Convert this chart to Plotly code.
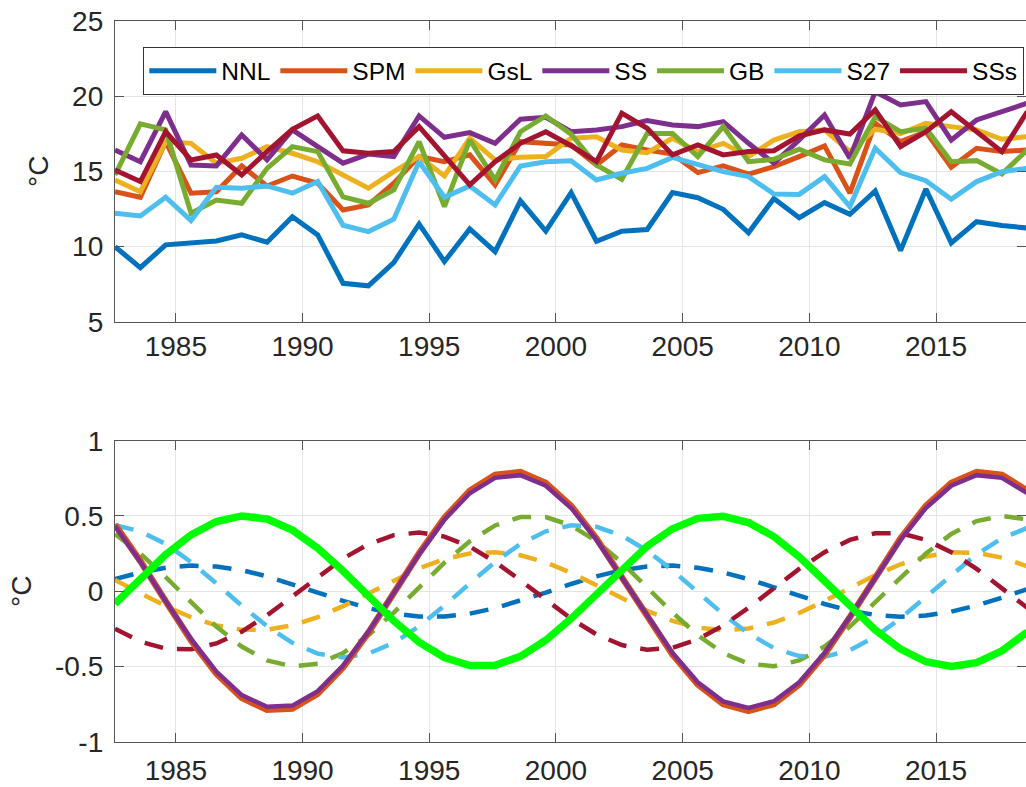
import plotly.graph_objects as go

# ---------------- data ----------------
years = [1982.6, 1983.6, 1984.6, 1985.6, 1986.6, 1987.6, 1988.6, 1989.6, 1990.6, 1991.6,
         1992.6, 1993.6, 1994.6, 1995.6, 1996.6, 1997.6, 1998.6, 1999.6, 2000.6, 2001.6,
         2002.6, 2003.6, 2004.6, 2005.6, 2006.6, 2007.6, 2008.6, 2009.6, 2010.6, 2011.6,
         2012.6, 2013.6, 2014.6, 2015.6, 2016.6, 2017.6, 2018.6]

names = ["NNL", "SPM", "GsL", "SS", "GB", "S27", "SSs"]

# top panel: annual temperatures (°C)
NNL = [10.0, 8.61, 10.12, 10.23, 10.38, 10.78, 10.30, 11.99, 10.78, 7.57, 7.40, 8.94, 11.51, 9.01,
       11.18, 9.67, 13.04, 11.03, 13.59, 10.36, 11.03, 11.14, 13.59, 13.25, 12.48, 10.92, 13.2,
       11.92, 12.92, 12.15, 13.70, 9.74, 13.83, 10.25, 11.66, 11.40, 11.24]
SPM = [13.65, 13.28, 16.97, 13.55, 13.65, 15.36, 14.03, 14.69, 14.21, 12.44, 12.77, 14.21, 15.98,
       15.64, 16.09, 14.1, 16.97, 16.82, 16.75, 15.42, 16.75, 16.42, 16.15, 14.92, 15.36, 14.81,
       15.31, 15.98, 16.69, 13.55, 18.19, 16.97, 17.63, 15.27, 16.53, 16.31, 16.42]
GsL = [14.43, 13.65, 16.97, 16.86, 15.54, 15.87, 16.64, 16.2, 15.64, 14.76, 13.88, 14.98, 15.98,
       14.7, 17.2, 15.76, 15.93, 15.98, 17.2, 17.3, 16.42, 16.24, 17.2, 16.31, 16.86, 15.98, 17.08,
       17.63, 17.75, 16.31, 17.8, 17.5, 18.19, 17.97, 17.75, 17.13, 17.3]
SS = [16.42, 15.64, 18.96, 15.42, 15.36, 17.42, 15.76, 17.75, 16.64, 15.54, 16.15, 15.98, 18.68,
      17.26, 17.57, 16.86, 18.46, 18.59, 17.63, 17.75, 17.97, 18.37, 18.08, 17.97, 18.3, 16.86,
      15.54, 17.08, 18.74, 15.87, 20.29, 19.41, 19.63, 17.08, 18.41, 18.96, 19.52]
GB = [14.76, 18.15, 17.75, 12.22, 13.1, 12.88, 15.2, 16.64, 16.31, 13.3, 12.88, 13.77, 16.97,
      12.66, 17.08, 14.43, 17.63, 18.68, 17.47, 15.42, 14.47, 17.52, 17.52, 15.98, 17.97, 15.64,
      15.8, 16.47, 15.76, 15.49, 18.63, 17.63, 17.86, 15.64, 15.71, 14.83, 16.42]
S27 = [12.22, 12.04, 13.28, 11.73, 13.94, 13.88, 14.03, 13.55, 14.32, 11.42, 11.0, 11.82, 15.64,
       13.28, 14.03, 12.77, 15.36, 15.64, 15.7, 14.43, 14.87, 15.2, 15.93, 15.42, 14.98, 14.65,
       13.5, 13.47, 14.65, 12.66, 16.53, 14.92, 14.38, 13.15, 14.32, 14.98, 15.2]
SSs = [15.09, 14.32, 17.63, 15.76, 16.09, 14.76, 16.31, 17.79, 18.68, 16.36, 16.2, 16.31, 17.97,
       16.09, 14.1, 15.64, 16.86, 17.63, 16.7, 15.64, 18.86, 17.86, 16.09, 16.75, 16.09, 16.31,
       16.37, 17.35, 17.75, 17.48, 19.08, 16.64, 17.63, 18.96, 17.63, 16.31, 18.96]

# bottom panel: nodal-cycle components (°C)
NNL_c = [0.08, 0.125, 0.156, 0.17, 0.164, 0.14, 0.099, 0.048, -0.009, -0.064, -0.113, -0.149,
         -0.168, -0.168, -0.149, -0.113, -0.064, -0.009, 0.048, 0.099, 0.14, 0.164, 0.17, 0.156,
         0.125, 0.08, 0.026, -0.031, -0.085, -0.129, -0.158, -0.17, -0.162, -0.136, -0.095,
         -0.043, 0.014]
SPM_c = [0.443, 0.2, -0.067, -0.326, -0.548, -0.708, -0.788, -0.779, -0.681, -0.507, -0.276,
         -0.014, 0.251, 0.487, 0.668, 0.773, 0.791, 0.719, 0.567, 0.35, 0.094, -0.173, -0.421,
         -0.62, -0.75, -0.795, -0.75, -0.62, -0.421, -0.173, 0.094, 0.351, 0.567, 0.719, 0.791,
         0.773, 0.668]
GsL_c = [0.074, -0.013, -0.099, -0.173, -0.227, -0.256, -0.256, -0.227, -0.173, -0.099, -0.013,
         0.074, 0.152, 0.213, 0.251, 0.259, 0.239, 0.191, 0.122, 0.039, -0.048, -0.13, -0.197,
         -0.242, -0.26, -0.248, -0.208, -0.145, -0.065, 0.022, 0.107, 0.179, 0.231, 0.258, 0.255,
         0.223, 0.166]
SS_c = [0.432, 0.195, -0.065, -0.318, -0.534, -0.69, -0.768, -0.76, -0.664, -0.494, -0.269,
        -0.013, 0.245, 0.475, 0.651, 0.753, 0.771, 0.701, 0.553, 0.341, 0.091, -0.169, -0.41,
        -0.605, -0.732, -0.775, -0.731, -0.605, -0.41, -0.169, 0.091, 0.342, 0.553, 0.701, 0.771,
        0.753, 0.651]
GB_c = [0.38, 0.25, 0.093, -0.076, -0.235, -0.368, -0.46, -0.499, -0.482, -0.411, -0.293, -0.142,
        0.026, 0.19, 0.332, 0.437, 0.493, 0.493, 0.437, 0.332, 0.19, 0.026, -0.142, -0.293,
        -0.411, -0.482, -0.499, -0.46, -0.368, -0.235, -0.076, 0.093, 0.25, 0.38, 0.466, 0.5, 0.477]
S27_c = [0.438, 0.398, 0.314, 0.194, 0.052, -0.096, -0.233, -0.343, -0.415, -0.44, -0.415,
         -0.343, -0.233, -0.096, 0.052, 0.194, 0.314, 0.398, 0.438, 0.428, 0.37, 0.269, 0.139,
         -0.007, -0.153, -0.281, -0.378, -0.431, -0.436, -0.392, -0.303, -0.18, -0.037, 0.11,
         0.245, 0.352, 0.42]
SSs_c = [-0.249, -0.335, -0.382, -0.386, -0.347, -0.269, -0.16, -0.033, 0.098, 0.217, 0.312,
         0.372, 0.39, 0.363, 0.296, 0.195, 0.072, -0.059, -0.183, -0.287, -0.358, -0.389, -0.376,
         -0.32, -0.228, -0.11, 0.02, 0.148, 0.259, 0.341, 0.385, 0.385, 0.341, 0.259, 0.148, 0.02,
         -0.11]
nodal = [-0.084, 0.084, 0.243, 0.374, 0.463, 0.5, 0.48, 0.406, 0.286, 0.134, -0.034, -0.197,
         -0.339, -0.441, -0.494, -0.492, -0.433, -0.326, -0.182, -0.017, 0.15, 0.3, 0.415, 0.484,
         0.498, 0.456, 0.363, 0.228, 0.068, -0.101, -0.257, -0.385, -0.469, -0.5, -0.475, -0.396,
         -0.272]

x_ticks = [1985, 1990, 1995, 2000, 2005, 2010, 2015]
y1_ticks = [5, 10, 15, 20, 25]
y2_ticks = [-1, -0.5, 0, 0.5, 1]
y2_labels = ["-1", "-0.5", "0", "0.5", "1"]

colors = ["#0072BD", "#D95319", "#EDB120", "#7E2F8E", "#77AC30", "#4DBEEE", "#A2142F"]
nodal_color = "#00FF00"

# ---------------- figure ----------------
W, H = 1026, 787
FONT = "Liberation Sans, Arial, Helvetica, sans-serif"
fig = go.Figure()

top_series = [NNL, SPM, GsL, SS, GB, S27, SSs]
for name, ys, c in zip(names, top_series, colors):
    fig.add_trace(go.Scatter(x=years, y=ys, mode="lines", name=name,
                             line=dict(color=c, width=5),
                             xaxis="x", yaxis="y", showlegend=True))

DASH = "19px,14px"
comp = dict(zip(names, [NNL_c, SPM_c, GsL_c, SS_c, GB_c, S27_c, SSs_c]))
cmap = dict(zip(names, colors))
for name in ["NNL", "GsL", "GB", "S27", "SSs"]:
    fig.add_trace(go.Scatter(x=years, y=comp[name], mode="lines", name=name + " nodal",
                             line=dict(color=cmap[name], width=4.5, dash=DASH),
                             xaxis="x2", yaxis="y2", showlegend=False))
fig.add_trace(go.Scatter(x=years, y=comp["SPM"], mode="lines", name="SPM nodal",
                         line=dict(color=cmap["SPM"], width=6.5),
                         xaxis="x2", yaxis="y2", showlegend=False))
fig.add_trace(go.Scatter(x=years, y=comp["SS"], mode="lines", name="SS nodal",
                         line=dict(color=cmap["SS"], width=4.5),
                         xaxis="x2", yaxis="y2", showlegend=False))
fig.add_trace(go.Scatter(x=years, y=nodal, mode="lines", name="18.6-yr cycle",
                         line=dict(color=nodal_color, width=7.5),
                         xaxis="x2", yaxis="y2", showlegend=False))

AX = "#555555"
GRID = "#e4e4e4"
TXT = "#262626"
xr = [1982.6, 2018.55]
xdom = [115 / W, 1.0]
common_x = dict(range=xr, domain=xdom, tickvals=x_ticks, ticks="inside", ticklen=9,
                tickcolor=AX, showline=True, linecolor=AX, linewidth=1.3, mirror="ticks",
                showgrid=True, gridcolor=GRID, gridwidth=1, zeroline=False, automargin=False,
                tickfont=dict(family=FONT, size=28, color=TXT))
common_y = dict(ticks="inside", ticklen=9, tickcolor=AX, showline=True, linecolor=AX,
                linewidth=1.3, mirror="ticks", showgrid=True, gridcolor=GRID, gridwidth=1,
                zeroline=False, automargin=False, ticklabelstandoff=5,
                tickfont=dict(family=FONT, size=28, color=TXT),
                title=dict(text="°C", font=dict(family=FONT, size=28, color=TXT),
                           standoff=15))

fig.update_layout(
    template="none",
    width=W, height=H,
    margin=dict(l=0, r=0, t=0, b=0, pad=0, autoexpand=False),
    paper_bgcolor="white", plot_bgcolor="white",
    showlegend=True,
    xaxis=dict(**common_x, anchor="y", ticklabelstandoff=-1),
    yaxis=dict(**common_y, range=[5, 25], tickvals=y1_ticks,
               domain=[1 - 322 / H, 1 - 20.7 / H], anchor="x"),
    xaxis2=dict(**common_x, anchor="y2", ticklabelstandoff=4),
    yaxis2=dict(**common_y, range=[-1, 1], tickvals=y2_ticks, ticktext=y2_labels,
                domain=[1 - 741.7 / H, 1 - 440.7 / H], anchor="x2"),
    legend=dict(orientation="h", x=143 / W, y=1 - 47 / H, xanchor="left", yanchor="top",
                bgcolor="white", bordercolor="#333333", borderwidth=1.3,
                font=dict(family=FONT, size=24.5, color="#000000"),
                itemwidth=67, tracegroupgap=0, itemclick=False, itemdoubleclick=False),
)

fig.write_html("out.html")
